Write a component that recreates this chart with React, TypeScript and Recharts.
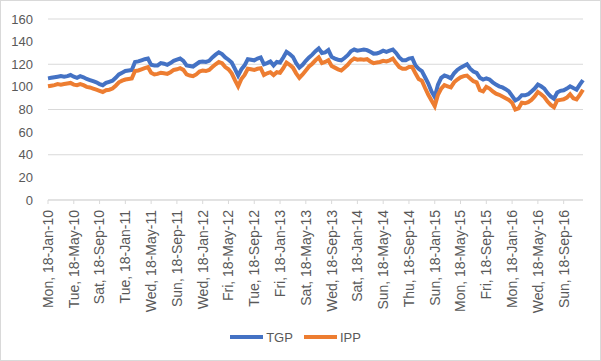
import React from "react";
import { CartesianGrid, Legend, Line, LineChart, XAxis, YAxis } from "recharts";

// half-month steps starting 18-Jan-2010
const tgp = [
  107.5, 108, 108.5, 109, 109.5, 109, 109.5, 110.5, 109, 108, 109.5, 108.5, 107, 106, 105, 104, 102.5, 101.5, 103.5, 104.5,
  105.5, 108, 111, 112.5, 114, 114.5, 115, 122, 122.5, 123.5, 124.5, 125, 119.5, 119, 119, 121, 120.5, 119.5, 121, 123,
  124, 125, 123, 119, 118.5, 118, 120, 122, 122.5, 122, 123, 126, 128.5, 130.5, 129, 126, 124, 121.5, 116, 110,
  115.5, 119, 124.5, 124, 123.5, 125, 126, 120, 121, 122.5, 119, 122, 121.5, 126, 131, 129, 126.5, 121, 117, 119.5,
  123, 126, 128.5, 131.5, 134, 130, 130.5, 132.5, 126.5, 125, 124, 123.5, 125.5, 128, 131.5, 133, 132, 132.5, 133, 132.5,
  131, 129.4, 129.5, 130.5, 132, 131, 132, 133, 130, 126, 123.5, 123.5, 125, 125.5, 119, 116, 114, 108.5, 103, 96,
  91, 102, 108, 110, 109, 107.5, 112, 115, 117, 118.5, 120, 116, 113.5, 112.4, 108, 106.5, 107.5, 106.5, 104, 102,
  100.5, 99.5, 98, 96, 92, 88, 89.5, 92.6, 92.5, 93.5, 96, 98.5, 102, 100.5, 98.5, 94.5, 91.5, 89.5, 95, 96.5,
  97, 98.5, 100.5, 99, 97.6, 102, 106,
];

const ipp = [
  100.5, 101, 101.5, 102.5, 102, 102.5, 103, 103.5, 102, 101.5, 102.5, 101.5, 100, 99.5, 98.5, 97.5, 96.5, 95.5, 97, 97.5,
  98.5, 101, 104, 105.5, 106.5, 107, 107.5, 114, 114.5, 115.5, 116.5, 117.5, 112.5, 111, 111.5, 112.5, 112, 111.5, 113, 115,
  115.5, 116.5, 115, 111, 110, 109.5, 111, 113.5, 114.5, 114, 115, 117.5, 120, 122, 121, 117.5, 115.5, 112, 106, 100.5,
  107, 110.5, 116, 115.5, 115, 116, 116.5, 110.5, 112, 113, 110.5, 113, 112.5, 116.5, 121.5, 119.5, 117, 112, 108, 111,
  114.5, 118, 120.5, 123.5, 126, 121, 122, 123.5, 118.5, 117, 115.5, 114.5, 117, 119.5, 123, 125, 124, 124.5, 124, 124.5,
  122.5, 121, 121.5, 122, 123, 122.5, 123.5, 125, 121, 117.5, 116, 116, 117.5, 117.5, 112, 107, 105.5, 99, 93, 88,
  83, 93, 98.5, 101.5, 100.5, 99.5, 104, 106.5, 108.5, 109.5, 110, 107.5, 105, 104, 97, 96, 100, 98.5, 96, 94,
  93, 91.5, 90, 88.5, 86, 80, 81, 86, 85.5, 86.5, 88.5, 91.5, 95.5, 93.5, 91, 87, 84, 82, 88, 88.5,
  89, 90.5, 93.5, 90, 89, 93, 97.5,
];

const tickLabels = [
  "Mon, 18-Jan-10", "Tue, 18-May-10", "Sat, 18-Sep-10", "Tue, 18-Jan-11", "Wed, 18-May-11", "Sun, 18-Sep-11",
  "Wed, 18-Jan-12", "Fri, 18-May-12", "Tue, 18-Sep-12", "Fri, 18-Jan-13", "Sat, 18-May-13", "Wed, 18-Sep-13",
  "Sat, 18-Jan-14", "Sun, 18-May-14", "Thu, 18-Sep-14", "Sun, 18-Jan-15", "Mon, 18-May-15", "Fri, 18-Sep-15",
  "Mon, 18-Jan-16", "Wed, 18-May-16", "Sun, 18-Sep-16",
];

const yTicks = [0, 20, 40, 60, 80, 100, 120, 140, 160];

const data = tgp.map((v, i) => ({ m: i / 2, TGP: v, IPP: ipp[i] }));
const xTicks = tickLabels.map((_, i) => i * 4);

const FONT = "'Liberation Sans', Arial, sans-serif";
const GREY = "#595959";

function DateTick(props: any) {
  const { x, y, payload } = props;
  const label = tickLabels[Math.round(payload.value / 4)];
  return (
    <text
      x={0}
      y={0}
      transform={`translate(${x},${y + 4}) rotate(-90)`}
      textAnchor="end"
      dy="0.35em"
      fill={GREY}
      fontSize={14}
      fontFamily={FONT}
    >
      {label}
    </text>
  );
}

function LegendBox() {
  const items = [
    { name: "TGP", color: "#4472C4" },
    { name: "IPP", color: "#ED7D31" },
  ];
  return (
    <div style={{ height: 24, display: "flex", justifyContent: "center", alignItems: "center", gap: 11, paddingLeft: 8 }}>
      {items.map((it) => (
        <div key={it.name} style={{ display: "flex", alignItems: "center" }}>
          <span style={{ width: 33, height: 4, background: it.color, display: "inline-block", marginRight: 3 }} />
          <span style={{ color: GREY, fontSize: 13, fontFamily: FONT }}>{it.name}</span>
        </div>
      ))}
    </div>
  );
}

export default function App() {
  return (
    <div style={{ position: "absolute", left: 0, top: 0, width: 601, height: 361, background: "#fff" }}>
      <div
        style={{
          position: "absolute", left: 0, top: 0, width: 601, height: 361,
          border: "1px solid #d9d9d9", boxSizing: "border-box",
        }}
      />
      <div style={{ position: "absolute", left: 0, top: 0 }}>
        <LineChart width={601} height={361} data={data} margin={{ top: 19, right: 18, left: 0, bottom: 12 }}>
          <CartesianGrid vertical={false} stroke="#d9d9d9" />
          <XAxis
            dataKey="m"
            type="number"
            domain={[0, 83]}
            ticks={xTicks}
            interval={0}
            height={125}
            tick={<DateTick />}
            tickSize={4}
            tickLine={{ stroke: "#d9d9d9" }}
            axisLine={{ stroke: "#d9d9d9" }}
          />
          <YAxis
            domain={[0, 160]}
            ticks={yTicks}
            width={48}
            axisLine={false}
            tickLine={false}
            tickSize={0}
            tickMargin={15}
            tick={{ fill: GREY, fontSize: 13, fontFamily: FONT }}
          />
          <Legend verticalAlign="bottom" content={<LegendBox />} />
          <Line type="linear" dataKey="TGP" stroke="#4472C4" strokeWidth={4} dot={false} isAnimationActive={false} />
          <Line type="linear" dataKey="IPP" stroke="#ED7D31" strokeWidth={4} dot={false} isAnimationActive={false} />
        </LineChart>
      </div>
    </div>
  );
}
